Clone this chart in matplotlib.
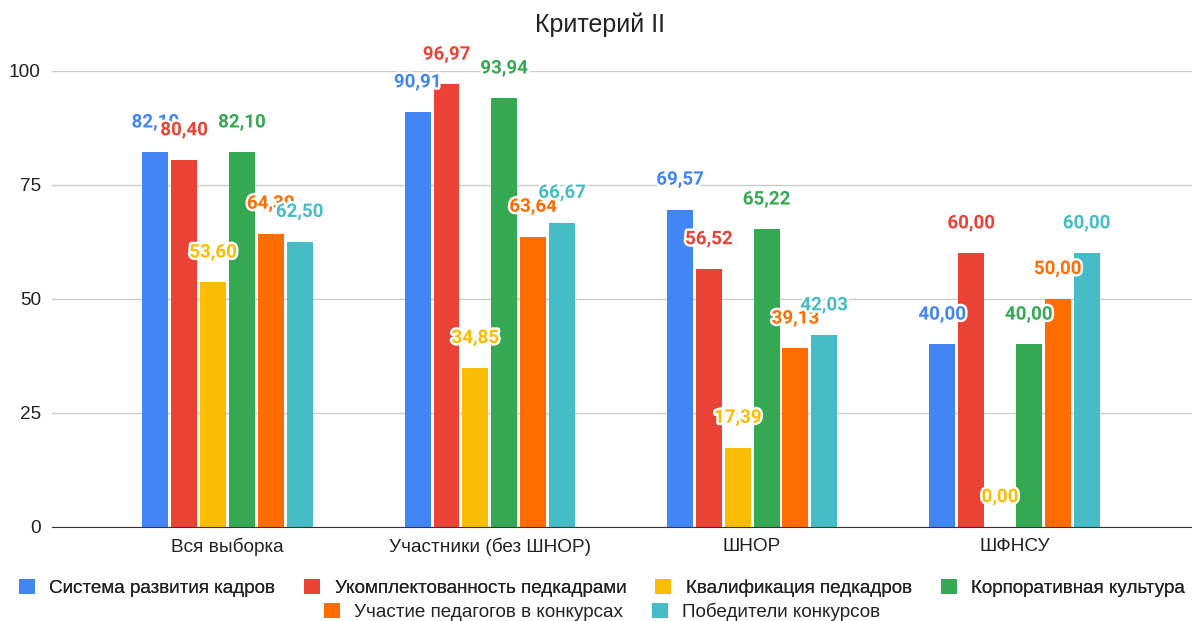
import matplotlib.pyplot as plt
import matplotlib.patheffects as pe
import numpy as np

# Data
categories = ['Вся выборка', 'Участники (без ШНОР)', 'ШНОР', 'ШФНСУ']
series_names = ['Система развития кадров', 'Укомплектованность педкадрами',
                'Квалификация педкадров', 'Корпоративная культура',
                'Участие педагогов в конкурсах', 'Победители конкурсов']
sistema = [82.10, 90.91, 69.57, 40.00]
ukompl = [80.40, 96.97, 56.52, 60.00]
kvalif = [53.60, 34.85, 17.39, 0.00]
korp = [82.10, 93.94, 65.22, 40.00]
uchastie = [64.30, 63.64, 39.13, 50.00]
pobed = [62.50, 66.67, 42.03, 60.00]
colors = ['#4285F4', '#EA4335', '#FBBC04', '#34A853', '#FF6D01', '#46BDC6']

all_series = [sistema, ukompl, kvalif, korp, uchastie, pobed]

fig = plt.figure(figsize=(11.92, 6.21), dpi=100)
ax = fig.add_axes([0.0436, 0.1514, 0.9564, 0.7348])

x = np.arange(len(categories))
pitch = 0.11
width = 0.099
handles = []
for i, (vals, name, col) in enumerate(zip(all_series, series_names, colors)):
    pos = x + (i - 2.5) * pitch
    b = ax.bar(pos, vals, width, color=col, label=name, zorder=3)
    handles.append(b)
    # value labels above bars, white halo like in sheets
    for px, v in zip(pos, vals):
        ax.annotate(f'{v:.2f}'.replace('.', ','), (px, v), xytext=(0, 21.5),
                    textcoords='offset points', ha='center', va='center',
                    fontsize=13.5, fontweight='bold', family='Roboto', color=col,
                    zorder=5,
                    path_effects=[pe.withStroke(linewidth=3.5, foreground='white')])

ax.set_xlim(-0.669, 3.677)
ax.set_ylim(0, 100)
ax.set_yticks([0, 25, 50, 75, 100])
ax.set_xticks(x)
ax.set_xticklabels(categories)
ax.grid(axis='y', color='#cccccc', linewidth=1, zorder=0)
for s in ['top', 'right', 'left']:
    ax.spines[s].set_visible(False)
ax.spines['bottom'].set_color('#333333')
ax.spines['bottom'].set_zorder(4)
ax.tick_params(axis='both', length=0, labelsize=13.7, colors='#222222')
ax.tick_params(axis='y', pad=8)
ax.tick_params(axis='x', pad=8)
for lab in ax.get_xticklabels() + ax.get_yticklabels():
    lab.set_family('Liberation Sans')

fig.suptitle('Критерий II', x=0.503, y=0.98, fontsize=18, family='Liberation Sans',
             color='#222222')

leg_kw = dict(frameon=False, handlelength=0.85, handleheight=0.85, handletextpad=0.75,
              columnspacing=1.55, prop={'family': 'Liberation Sans', 'size': 13.6})
leg1 = fig.legend(handles[:4], series_names[:4], loc='center', ncol=4,
                  bbox_to_anchor=(0.505, 1 - 588 / 621), **leg_kw)
fig.add_artist(leg1)
leg2 = fig.legend(handles[4:], series_names[4:], loc='center', ncol=2,
                  bbox_to_anchor=(0.505, 1 - 612 / 621), **leg_kw)
for t in leg1.get_texts() + leg2.get_texts():
    t.set_color('#222222')

plt.savefig('out.png', dpi=100)
